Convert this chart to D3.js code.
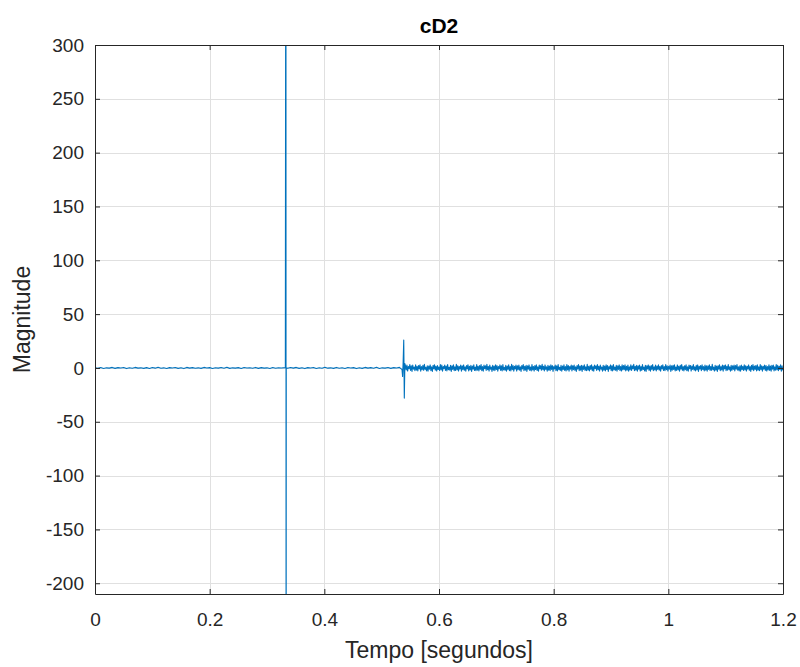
<!DOCTYPE html>
<html>
<head>
<meta charset="utf-8">
<script src="https://cdn.jsdelivr.net/npm/d3@7"></script>
<style>
  body { margin: 0; background: #fff; }
  svg { display: block; font-family: "Liberation Sans", Arial, Helvetica, sans-serif; }
</style>
</head>
<body>
<script>
// ---- Data ----
const chartTitle = "cD2";
const xLabel = "Tempo [segundos]";
const yLabel = "Magnitude";
const xTicks = [0, 0.2, 0.4, 0.6, 0.8, 1, 1.2];
const xTickLabels = ["0", "0.2", "0.4", "0.6", "0.8", "1", "1.2"];
const yTicks = [-200, -150, -100, -50, 0, 50, 100, 150, 200, 250, 300];
const yTickLabels = ["-200", "-150", "-100", "-50", "0", "50", "100", "150", "200", "250", "300"];
const xDomain = [0, 1.2];
const yDomain = [-210, 300];

// quiet segment before the first spike (start 0, step 0.005 s)
const quiet1Start = 0, quiet1Step = 0.005;
const quiet1Values = [
  0.2,-0.3,0.4,-0.5,0.1,-0.2,0.5,-0.4,0.3,-0.1,0.4,-0.6,0.2,-0.3,0.5,-0.2,0.1,-0.4,0.3,-0.5,
  0.4,-0.2,0.6,-0.3,0.1,-0.5,0.3,-0.1,0.4,-0.4,0.2,-0.6,0.5,-0.2,0.3,-0.3,0.1,-0.4,0.5,-0.1,
  0.3,-0.5,0.2,-0.2,0.4,-0.3,0.6,-0.4,0.1,-0.2,0.3,-0.5,0.4,-0.1,0.2,-0.3,0.5,-0.4,0.3,-0.2,
  0.1,-0.5,0.4,-0.3,0.2,-0.1
];
// first spike (very large, beyond the axis limits)
const spike1Times = [0.3320, 0.3330, 0.3333, 0.3336];
const spike1Values = [0.3, 640, -480, 0.2];

// quiet segment between spikes (start 0.336, step 0.005 s)
const quiet2Start = 0.336, quiet2Step = 0.005;
const quiet2Values = [
  -0.3,0.4,-0.2,0.5,-0.4,0.2,-0.6,0.3,-0.1,0.4,-0.5,0.2,-0.3,0.6,-0.2,0.1,-0.4,0.5,-0.3,0.2,
  -0.5,0.4,-0.1,0.3,-0.6,0.2,-0.4,0.5,-0.2,0.3,-0.3,0.6,-0.5,0.1,-0.2,0.4,-0.4,0.3,-0.1,0.5
];
// second spike
const spike2Times = [0.5355, 0.5365, 0.5375, 0.5385, 0.5395, 0.5405];
const spike2Values = [-1.5, -8, 6, 26, -28, 4];

// noisy segment after the second spike (start 0.5415, step 0.001268 s)
const noiseStart = 0.5415, noiseStep = 0.001268;
const noiseValues = [
  2.1,-1.8,2.6,-2.9,1.4,-0.7,3.1,-2.4,1.9,-3.2,2.7,-1.1,0.8,-2.6,3.0,-2.0,1.5,-2.8,2.3,-0.9,
  2.9,-3.1,1.2,-1.6,2.5,-2.2,3.3,-1.4,0.6,-2.7,2.0,-3.0,1.7,-1.2,2.8,-2.5,1.1,-3.3,2.4,-0.8,
  3.0,-2.1,1.6,-2.9,2.2,-1.5,0.9,-2.4,3.2,-1.9,2.6,-3.1,1.3,-0.6,2.7,-2.3,1.8,-2.8,3.1,-1.7,
  0.7,-2.0,2.5,-3.2,1.9,-1.3,2.9,-2.6,1.0,-2.4,3.4,-1.8,2.1,-2.9,1.4,-1.0,2.6,-3.0,2.0,-1.6,
  2.8,-2.2,1.1,-3.1,2.3,-0.9,3.0,-2.7,1.5,-1.9,2.4,-3.3,1.8,-1.1,2.9,-2.4,0.8,-2.6,3.2,-2.0,
  1.6,-2.8,2.2,-1.4,3.1,-2.5,1.2,-3.0,2.6,-0.7,2.0,-2.3,3.3,-1.7,1.4,-2.9,2.7,-1.2,0.9,-3.2,
  2.5,-2.1,1.7,-2.6,3.0,-1.5,2.1,-3.1,1.3,-0.8,2.8,-2.4,1.9,-2.7,3.1,-1.8,0.6,-2.2,2.4,-3.0,
  1.8,-1.4,2.9,-2.5,1.2,-2.8,3.3,-1.6,2.2,-3.1,1.5,-1.0,2.7,-2.9,2.0,-1.7,2.6,-2.1,1.0,-3.2,
  2.3,-0.9,3.2,-2.6,1.6,-2.0,2.5,-3.3,1.9,-1.2,2.8,-2.3,0.9,-2.7,3.1,-1.9,1.4,-2.9,2.2,-1.5,
  3.0,-2.4,1.1,-3.0,2.6,-0.8,2.1,-2.2,3.4,-1.6,1.5,-2.8,2.8,-1.3,1.0,-3.1,2.4,-2.0,1.8,-2.5,
  2.9,-1.4,2.2,-3.2,1.2,-0.9,2.7,-2.6,2.0,-2.8,3.2,-1.7,0.7,-2.3,2.5,-3.1,1.7,-1.5,2.9,-2.4,
  1.3,-2.9,3.1,-1.8,2.3,-3.0,1.4,-1.1,2.6,-2.7,2.1,-1.6,2.7,-2.2,1.1,-3.3,2.2,-1.0,3.1,-2.5,
  1.7,-2.1,2.4,-3.2,2.0,-1.3,2.9,-2.3,1.0,-2.6,3.3,-2.0,1.5,-2.8,2.3,-1.4,3.0,-2.6,1.2,-3.0,
  2.6,-0.7,2.0,-2.4,3.2,-1.7,1.6,-2.9,2.7,-1.2,0.9,-3.1,2.5,-2.1,1.8,-2.7,2.9,-1.5,2.2,-3.2,
  1.3,-0.9,2.8,-2.5,2.1,-2.8,3.1,-1.8,0.8,-2.2,2.4,-3.0,1.9,-1.4,2.8,-2.3,1.4,-2.9,3.0,-1.9,
  2.2,-1.6,3.0,-2.7,1.5,-2.0,2.6,-3.1,1.1,-1.8,2.9,-2.4,2.0,-0.8,3.3,-2.6,1.6,-2.1,2.5,-3.0,
  1.9,-1.2,2.7,-2.9,1.3,-2.3,3.1,-1.5,0.8,-2.7,2.4,-3.2,2.1,-1.0,2.8,-2.2,1.7,-3.0,2.3,-1.4,
  3.2,-2.5,1.0,-1.9,2.6,-2.8,1.8,-1.3,3.0,-2.1,1.4,-3.1,2.2,-0.9,2.9,-2.4,1.2,-2.6,3.1,-1.7,
  2.0,-2.9,1.5,-1.1,2.7,-3.3,1.9,-2.0,2.4,-1.5,3.0,-2.7,0.9,-2.3,2.8,-1.8,1.6,-3.0,2.5,-1.2,
  3.1,-2.2,1.3,-2.8,2.1,-1.6,2.9,-2.5,1.1,-3.1,2.6,-0.7,2.3,-2.9,1.8,-1.4,3.2,-2.0,1.0,-2.7,
  2.4,-1.9,2.8,-3.2,1.6,-1.0,2.2,-2.6,3.0,-1.5,1.2,-2.8,2.7,-2.1,1.9,-3.0,2.0,-1.3,2.9,-2.4,
  1.4,-2.2,3.3,-1.7,0.8,-2.9,2.5,-2.0,1.7,-3.2,2.1,-1.1,3.0,-2.6,1.3,-1.9,2.6,-3.0,2.3,-0.9,
  2.8,-2.5,1.5,-2.1,3.1,-1.6,1.0,-3.1,2.4,-2.3,1.9,-1.4,2.7,-2.8,2.2,-1.2,3.2,-2.0,1.1,-2.7,
  2.0,-3.0,2.6,-1.5,1.4,-2.4,3.0,-1.8,2.1,-2.9,1.6,-1.0,2.8,-2.2,1.2,-3.2,2.5,-1.7,3.1,-2.5,
  1.7,-1.3,2.3,-2.8,2.9,-2.1,1.0,-2.6,3.2,-1.6,2.0,-3.0,1.5,-1.1,2.6,-2.4,2.2,-2.9,1.3,-1.8,
  3.0,-2.3,1.8,-3.1,2.4,-1.2,2.7,-2.7,1.1,-2.0,3.1,-1.9,2.5,-2.5,1.6,-1.4,2.9,-3.0,2.0,-2.2
];

// ---- Build point list ----
const points = [];
quiet1Values.forEach((v, i) => points.push([quiet1Start + i * quiet1Step, v]));
spike1Times.forEach((t, i) => points.push([t, spike1Values[i]]));
quiet2Values.forEach((v, i) => points.push([quiet2Start + i * quiet2Step, v]));
spike2Times.forEach((t, i) => points.push([t, spike2Values[i]]));
noiseValues.forEach((v, i) => { const t = noiseStart + i * noiseStep; if (t <= 1.2) points.push([t, v]); });

// ---- Layout ----
const W = 800, H = 667;
const margin = { top: 45, right: 17, bottom: 73, left: 95 };
const iw = W - margin.left - margin.right;
const ih = H - margin.top - margin.bottom;
const axisColor = "#262626";
const fontFam = "'Liberation Sans', Arial, Helvetica, sans-serif";

const svg = d3.select("body").append("svg").attr("width", W).attr("height", H);
const g = svg.append("g").attr("transform", `translate(${margin.left},${margin.top})`);

const x = d3.scaleLinear().domain(xDomain).range([0, iw]);
const y = d3.scaleLinear().domain(yDomain).range([ih, 0]);

// grid
g.append("g").selectAll("line").data(xTicks).join("line")
  .attr("x1", d => Math.round(x(d)) + 0.5).attr("x2", d => Math.round(x(d)) + 0.5)
  .attr("y1", 0).attr("y2", ih).attr("stroke", "#e0e0e0").attr("stroke-width", 1);
g.append("g").selectAll("line").data(yTicks).join("line")
  .attr("y1", d => Math.round(y(d)) + 0.5).attr("y2", d => Math.round(y(d)) + 0.5)
  .attr("x1", 0).attr("x2", iw).attr("stroke", "#e0e0e0").attr("stroke-width", 1);

// clip
svg.append("defs").append("clipPath").attr("id", "clip")
  .append("rect").attr("width", iw).attr("height", ih);

// line
const line = d3.line().x(d => x(d[0])).y(d => y(d[1]));
g.append("path").datum(points).attr("clip-path", "url(#clip)")
  .attr("d", line).attr("fill", "none").attr("stroke", "#0072BD")
  .attr("stroke-width", 1.1).attr("stroke-linejoin", "round");

// axes (inward ticks, box)
const tickLen = 5;
const xAxisB = d3.axisBottom(x).tickValues(xTicks).tickFormat((d, i) => xTickLabels[i]).tickSizeInner(-tickLen).tickSizeOuter(0).tickPadding(19);
const xAxisT = d3.axisTop(x).tickValues(xTicks).tickFormat("").tickSizeInner(-tickLen).tickSizeOuter(0);
const yAxisL = d3.axisLeft(y).tickValues(yTicks).tickFormat((d, i) => yTickLabels[i]).tickSizeInner(-tickLen).tickSizeOuter(0).tickPadding(11);
const yAxisR = d3.axisRight(y).tickValues(yTicks).tickFormat("").tickSizeInner(-tickLen).tickSizeOuter(0);

function style(sel) {
  sel.select(".domain").attr("stroke", axisColor).attr("stroke-width", 1);
  sel.selectAll(".tick line").attr("stroke", axisColor).attr("stroke-width", 1);
  sel.selectAll(".tick text").attr("fill", axisColor).style("font-size", "19px").style("font-family", fontFam);
}
g.append("g").attr("transform", `translate(0,${ih})`).call(xAxisB).call(style);
g.append("g").call(xAxisT).call(style);
g.append("g").call(yAxisL).call(style);
g.append("g").attr("transform", `translate(${iw},0)`).call(yAxisR).call(style);

// title and labels
svg.append("text").attr("x", margin.left + iw / 2).attr("y", 33)
  .attr("text-anchor", "middle").attr("fill", "#000")
  .style("font-family", fontFam)
  .style("font-size", "21px").style("font-weight", "bold").text(chartTitle);
svg.append("text").attr("x", margin.left + iw / 2).attr("y", 658)
  .attr("text-anchor", "middle").attr("fill", axisColor)
  .style("font-family", fontFam)
  .style("font-size", "23px").text(xLabel);
svg.append("text").attr("transform", `translate(30,${margin.top + ih / 2}) rotate(-90)`)
  .attr("text-anchor", "middle").attr("fill", axisColor)
  .style("font-family", fontFam)
  .style("font-size", "23px").text(yLabel);
</script>
</body>
</html>
